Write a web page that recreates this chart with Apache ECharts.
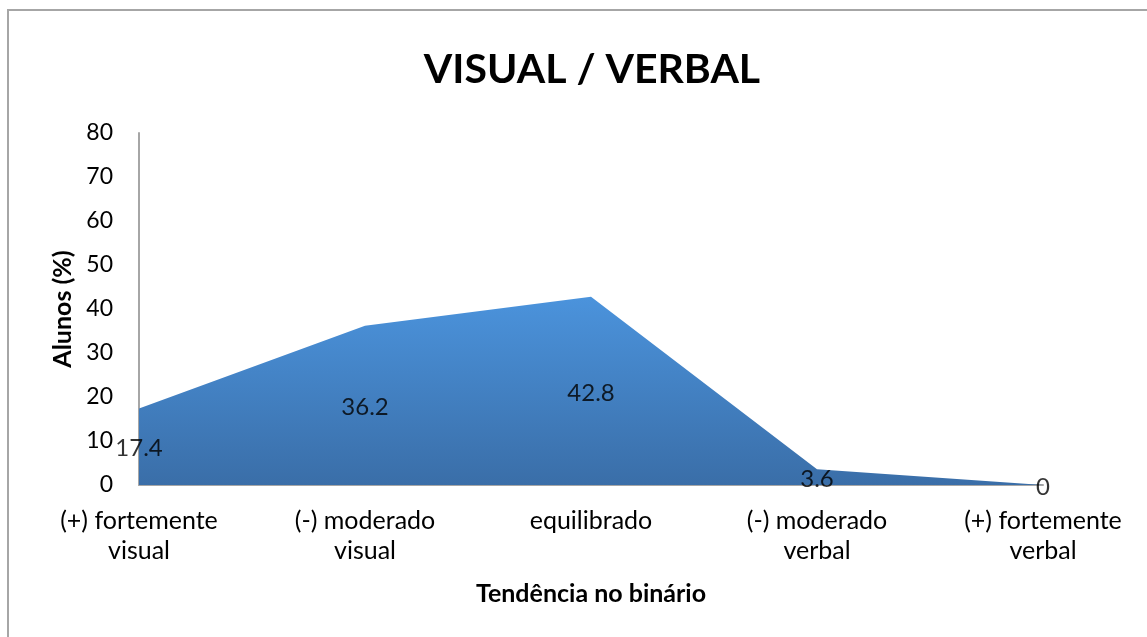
<!DOCTYPE html>
<html>
<head>
<meta charset="utf-8">
<script src="https://cdn.jsdelivr.net/npm/echarts@6/dist/echarts.min.js"></script>
<style>
html,body{margin:0;padding:0;background:#fff;}
#frame{position:absolute;left:7px;top:9px;width:1145px;height:635px;border:2px solid #a6a6a6;box-sizing:border-box;}
#chart{position:absolute;left:0;top:0;width:1147px;height:637px;}
</style>
</head>
<body>
<div id="frame"></div>
<div id="chart"></div>
<script>
const categories = ['(+) fortemente\nvisual', '(-) moderado\nvisual', 'equilibrado', '(-) moderado\nverbal', '(+) fortemente\nverbal'];
const values = [17.4, 36.2, 42.8, 3.6, 0];
const titleText = 'VISUAL / VERBAL';
const yName = 'Alunos (%)';
const xName = 'Tendência no binário';

const FONT = 'Lato, "Open Sans", sans-serif';
const chart = echarts.init(document.getElementById('chart'), null, {renderer: 'canvas'});
chart.setOption({
  backgroundColor: 'transparent',
  animation: false,
  title: {
    text: titleText, left: 587, top: 44, textAlign: 'center',
    textStyle: {fontFamily: FONT, fontSize: 41, fontWeight: 'bold', color: '#000'}
  },
  grid: {left: 139, right: 104, top: 133, bottom: 152},
  xAxis: {
    type: 'category', data: categories, boundaryGap: false,
    axisLine: {lineStyle: {color: '#a6a6a6', width: 2}},
    axisTick: {show: false},
    axisLabel: {fontFamily: FONT, fontSize: 25, color: '#000', lineHeight: 30, margin: 21, interval: 0},
    name: xName, nameLocation: 'middle', nameGap: 96,
    nameTextStyle: {fontFamily: FONT, fontSize: 25, fontWeight: 'bold', color: '#000'}
  },
  yAxis: {
    type: 'value', min: 0, max: 80, interval: 10,
    axisLine: {show: true, lineStyle: {color: '#a6a6a6', width: 2}},
    axisTick: {show: false},
    splitLine: {show: false},
    axisLabel: {fontFamily: FONT, fontSize: 23, color: '#000', margin: 26},
    name: yName, nameLocation: 'middle', nameGap: 62, nameRotate: 90,
    nameTextStyle: {fontFamily: FONT, fontSize: 25, fontWeight: 'bold', color: '#000'}
  },
  series: [
    {
      type: 'line', data: values, symbol: 'none',
      lineStyle: {width: 0},
      areaStyle: {
        opacity: 1,
        color: new echarts.graphic.LinearGradient(0, 0, 0, 1, [
          {offset: 0, color: '#4b93dc'},
          {offset: 1, color: '#3a6ea8'}
        ])
      },
      z: 2
    },
    {
      type: 'scatter',
      data: values.map(v => v / 2),
      symbolSize: 1,
      itemStyle: {color: 'transparent'},
      label: {
        show: true, position: 'inside', offset: [0, 2],
        formatter: p => String(values[p.dataIndex]),
        fontFamily: FONT, fontSize: 24, color: '#000'
      },
      z: 5
    }
  ]
});
</script>
</body>
</html>
